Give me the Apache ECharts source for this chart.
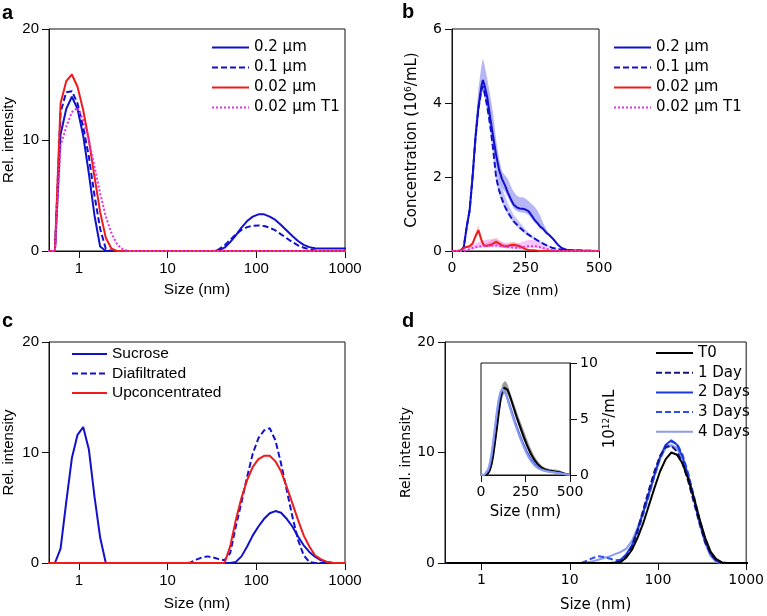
<!DOCTYPE html>
<html>
<head>
<meta charset="utf-8">
<script src="https://cdn.jsdelivr.net/npm/echarts@6/dist/echarts.min.js"></script>
<style>
  html, body { margin: 0; padding: 0; background: #fff; }
  #chart { width: 767px; height: 616px; }
</style>
</head>
<body>
<div id="chart"></div>
<script>
// DLS size bins (nm), shared by panels a, c and d
const sizeBins = [
  0.4, 0.4632, 0.5365, 0.6213, 0.7195, 0.8332, 0.9649, 1.117, 1.294, 1.499,
  1.736, 2.01, 2.328, 2.696, 3.122, 3.615, 4.187, 4.849, 5.615, 6.503,
  7.531, 8.721, 10.1, 11.7, 13.54, 15.69, 18.17, 21.04, 24.36, 28.21,
  32.67, 37.84, 43.82, 50.75, 58.77, 68.06, 78.82, 91.28, 105.7, 122.4,
  141.8, 164.2, 190.1, 220.2, 255, 295.3, 342, 396.1, 458.7, 531.2,
  615.1, 712.4, 825, 955.4, 1106
]
const logTicks = [1, 10, 100, 1000]

// panel a - filter pore size
const a02 = [
  0, 0, 0, 10.5, 12.8, 13.9, 12.8, 10.4, 7.0, 3.2,
  0.4, 0, 0, 0, 0, 0, 0, 0, 0, 0,
  0, 0, 0, 0, 0, 0, 0, 0, 0, 0,
  0, 0.05, 0.3, 0.8, 1.4, 2.1, 2.7, 3.1, 3.3, 3.3,
  3.1, 2.8, 2.35, 1.85, 1.35, 0.9, 0.55, 0.35, 0.25, 0.22,
  0.22, 0.22, 0.22, 0.22, 0.22
]
const a01 = [
  0, 0, 0, 12.5, 14.3, 14.4, 13.3, 11.2, 8.5, 5.0,
  2.0, 0.2, 0, 0, 0, 0, 0, 0, 0, 0,
  0, 0, 0, 0, 0, 0, 0, 0, 0, 0,
  0, 0.15, 0.5, 1.0, 1.5, 1.9, 2.15, 2.28, 2.3, 2.25,
  2.1, 1.85, 1.5, 1.15, 0.8, 0.5, 0.3, 0.15, 0.05, 0,
  0, 0, 0, 0, 0
]
const a002 = [
  0, 0, 0, 13.3, 15.3, 15.9, 14.8, 12.7, 10.0, 6.7,
  3.5, 1.2, 0.2, 0, 0, 0, 0, 0, 0, 0,
  0, 0, 0, 0, 0, 0, 0, 0, 0, 0,
  0, 0, 0, 0, 0, 0, 0, 0, 0, 0,
  0, 0, 0, 0, 0, 0, 0, 0, 0, 0,
  0, 0, 0, 0, 0
]
const a002T1 = [
  0, 0, 0, 9.5, 11.2, 12.5, 12.9, 11.8, 10.0, 7.6,
  5.2, 3.1, 1.6, 0.6, 0.15, 0, 0, 0, 0, 0,
  0, 0, 0, 0, 0, 0, 0, 0, 0, 0,
  0, 0, 0, 0, 0, 0, 0, 0, 0, 0,
  0, 0, 0, 0, 0, 0, 0, 0, 0, 0,
  0, 0, 0, 0, 0
]

// panel b - NTA concentration (10^6/mL)
const ntaSizes = [
  0, 10, 20, 30, 40, 50, 60, 70, 80, 90, 100, 105, 110, 120, 130, 140, 150, 160, 170, 180,
  190, 200, 210, 220, 230, 240, 250, 260, 270, 280, 290, 300, 310, 320, 330, 340, 350, 360, 370, 380,
  390, 400, 450, 500
]
const b02 = [
  0, 0, 0, 0.01, 0.1, 0.65, 1.1, 2.0, 3.1, 3.9, 4.45, 4.62, 4.5, 4.15, 3.6, 3.1, 2.6, 2.2, 1.95, 1.78,
  1.58, 1.4, 1.25, 1.18, 1.15, 1.14, 1.12, 1.08, 0.97, 0.85, 0.76, 0.66, 0.6, 0.5, 0.44, 0.36, 0.27, 0.17, 0.1, 0.06,
  0.03, 0.02, 0.01, 0
]
const b02Hi = [
  0, 0, 0, 0.01, 0.12, 0.75, 1.3, 2.3, 3.4, 4.4, 5.0, 5.2, 5.05, 4.65, 4.2, 3.7, 3.0, 2.5, 2.15, 2.05,
  1.95, 1.75, 1.6, 1.5, 1.45, 1.45, 1.42, 1.35, 1.28, 1.2, 1.1, 0.95, 0.75, 0.6, 0.47, 0.36, 0.26, 0.18, 0.12, 0.08,
  0.06, 0.04, 0.02, 0
]
const b02Lo = [
  0, 0, 0, 0.01, 0.08, 0.55, 0.95, 1.8, 2.85, 3.65, 4.2, 4.35, 4.25, 3.9, 3.4, 2.9, 2.4, 1.95, 1.7, 1.6,
  1.45, 1.3, 1.15, 1.08, 1.05, 1.04, 1.02, 0.98, 0.88, 0.78, 0.7, 0.6, 0.55, 0.45, 0.4, 0.32, 0.22, 0.14, 0.08, 0.05,
  0.03, 0.02, 0.01, 0
]
const b01 = [
  0, 0, 0, 0.01, 0.1, 0.65, 1.1, 2.0, 3.05, 3.85, 4.35, 4.45, 4.3, 3.9, 3.4, 2.75, 2.0, 1.65, 1.4, 1.2,
  1.05, 0.92, 0.8, 0.72, 0.64, 0.57, 0.5, 0.44, 0.39, 0.34, 0.29, 0.24, 0.2, 0.16, 0.12, 0.09, 0.07, 0.05, 0.04, 0.03,
  0.02, 0.02, 0.01, 0
]
const b01Hi = [
  0, 0, 0, 0.01, 0.1, 0.7, 1.2, 2.1, 3.2, 4.0, 4.45, 4.55, 4.45, 4.1, 3.7, 3.1, 2.45, 2.0, 1.72, 1.5,
  1.3, 1.12, 0.98, 0.88, 0.78, 0.68, 0.58, 0.5, 0.44, 0.38, 0.32, 0.27, 0.22, 0.18, 0.14, 0.1, 0.08, 0.06, 0.05, 0.04,
  0.03, 0.02, 0.01, 0
]
const b01Lo = [
  0, 0, 0, 0.01, 0.09, 0.6, 1.0, 1.9, 2.95, 3.75, 4.25, 4.35, 4.2, 3.75, 3.2, 2.55, 1.85, 1.55, 1.32, 1.12,
  0.98, 0.86, 0.74, 0.66, 0.58, 0.52, 0.45, 0.4, 0.35, 0.3, 0.26, 0.21, 0.18, 0.14, 0.1, 0.08, 0.06, 0.04, 0.03, 0.02,
  0.01, 0.01, 0, 0
]
const b002 = [
  0, 0, 0, 0.02, 0.08, 0.11, 0.13, 0.2, 0.4, 0.56, 0.3, 0.2, 0.14, 0.14, 0.16, 0.2, 0.25, 0.2, 0.15, 0.13,
  0.13, 0.16, 0.17, 0.15, 0.13, 0.09, 0.05, 0.03, 0.02, 0.02, 0.01, 0, 0, 0, 0, 0, 0, 0, 0, 0,
  0, 0, 0, 0
]
const b002Hi = [
  0, 0, 0, 0.03, 0.1, 0.14, 0.17, 0.26, 0.5, 0.7, 0.4, 0.28, 0.2, 0.22, 0.27, 0.32, 0.36, 0.3, 0.22, 0.19,
  0.2, 0.24, 0.25, 0.22, 0.18, 0.13, 0.08, 0.05, 0.03, 0.03, 0.02, 0.01, 0, 0, 0, 0, 0, 0, 0, 0,
  0, 0, 0, 0
]
const b002Lo = [
  0, 0, 0, 0.01, 0.06, 0.09, 0.1, 0.16, 0.33, 0.48, 0.24, 0.15, 0.1, 0.1, 0.11, 0.14, 0.18, 0.14, 0.11, 0.09,
  0.09, 0.12, 0.12, 0.1, 0.09, 0.06, 0.03, 0.02, 0.01, 0.01, 0, 0, 0, 0, 0, 0, 0, 0, 0, 0,
  0, 0, 0, 0
]
const b002T1 = [
  0, 0, 0, 0, 0, 0.02, 0.05, 0.08, 0.1, 0.12, 0.13, 0.14, 0.14, 0.15, 0.15, 0.15, 0.15, 0.14, 0.13, 0.12,
  0.11, 0.1, 0.09, 0.09, 0.09, 0.1, 0.12, 0.13, 0.13, 0.13, 0.12, 0.1, 0.08, 0.06, 0.04, 0.03, 0.02, 0.01, 0, 0,
  0, 0, 0, 0
]
const b002T1Hi = [
  0, 0, 0, 0, 0.01, 0.05, 0.1, 0.16, 0.2, 0.24, 0.27, 0.28, 0.29, 0.31, 0.32, 0.32, 0.31, 0.28, 0.25, 0.22,
  0.2, 0.19, 0.19, 0.2, 0.22, 0.25, 0.28, 0.3, 0.3, 0.29, 0.26, 0.22, 0.17, 0.12, 0.08, 0.05, 0.03, 0.02, 0.01, 0,
  0, 0, 0, 0
]
const b002T1Lo = [
  0, 0, 0, 0, 0, 0.01, 0.03, 0.05, 0.07, 0.08, 0.09, 0.1, 0.1, 0.1, 0.1, 0.1, 0.1, 0.09, 0.08, 0.08,
  0.07, 0.06, 0.06, 0.06, 0.06, 0.07, 0.08, 0.09, 0.09, 0.09, 0.08, 0.07, 0.05, 0.04, 0.03, 0.02, 0.01, 0, 0, 0,
  0, 0, 0, 0
]

// panel c - purification steps
const cSucrose = [
  0, 0, 0, 1.3, 5.5, 9.5, 11.6, 12.3, 10.3, 6.0,
  2.3, 0, 0, 0, 0, 0, 0, 0, 0, 0,
  0, 0, 0, 0, 0, 0, 0, 0, 0, 0,
  0, 0, 0, 0, 0.1, 0.6, 1.5, 2.5, 3.3, 4.0,
  4.5, 4.7, 4.55, 4.0, 3.3, 2.4, 1.6, 1.0, 0.57, 0.27,
  0.12, 0.03, 0, 0, 0
]
const cDiafiltrated = [
  0, 0, 0, 0, 0, 0, 0, 0, 0, 0,
  0, 0, 0, 0, 0, 0, 0, 0, 0, 0,
  0, 0, 0, 0, 0, 0, 0.05, 0.3, 0.5, 0.6,
  0.5, 0.35, 0.25, 0.9, 3.3, 5.5, 7.8, 9.9, 11.3, 12.0,
  12.2, 11.1, 9.0, 6.6, 4.2, 2.1, 0.7, 0.1, 0, 0,
  0, 0, 0, 0, 0
]
const cUpconc = [
  0, 0, 0, 0, 0, 0, 0, 0, 0, 0,
  0, 0, 0, 0, 0, 0, 0, 0, 0, 0,
  0, 0, 0, 0, 0, 0, 0, 0, 0, 0,
  0, 0, 0, 1.5, 3.9, 5.9, 7.5, 8.7, 9.4, 9.7,
  9.7, 9.2, 8.3, 6.9, 5.4, 3.9, 2.5, 1.5, 0.7, 0.35,
  0.12, 0.03, 0, 0, 0
]

// panel d - stability over time
const dT0 = [
  0, 0, 0, 0, 0, 0, 0, 0, 0, 0,
  0, 0, 0, 0, 0, 0, 0, 0, 0, 0,
  0, 0, 0, 0, 0, 0, 0, 0, 0, 0,
  0, 0.1, 0.5, 1.2, 2.3, 3.6, 5.2, 6.8, 8.3, 9.4,
  10.0, 9.8, 9.0, 7.6, 5.9, 4.0, 2.3, 1.0, 0.35, 0.05,
  0, 0, 0, 0, 0
]
const dDay1 = [
  0, 0, 0, 0, 0, 0, 0, 0, 0, 0,
  0, 0, 0, 0, 0, 0, 0, 0, 0, 0,
  0, 0, 0, 0, 0, 0, 0, 0, 0, 0,
  0, 0.1, 0.6, 1.5, 3.0, 4.8, 6.6, 8.3, 9.7, 10.5,
  10.6, 10.1, 9.0, 7.4, 5.5, 3.6, 1.9, 0.8, 0.2, 0,
  0, 0, 0, 0, 0
]
const dDay2 = [
  0, 0, 0, 0, 0, 0, 0, 0, 0, 0,
  0, 0, 0, 0, 0, 0, 0, 0, 0, 0,
  0, 0, 0, 0, 0, 0, 0, 0, 0, 0,
  0.05, 0.3, 0.8, 1.6, 3.0, 4.6, 6.3, 8.0, 9.6, 10.7,
  11.1, 10.7, 9.6, 7.9, 5.9, 3.8, 2.0, 0.8, 0.2, 0,
  0, 0, 0, 0, 0
]
const dDay3 = [
  0, 0, 0, 0, 0, 0, 0, 0, 0, 0,
  0, 0, 0, 0, 0, 0, 0, 0, 0, 0,
  0, 0, 0, 0, 0, 0.2, 0.45, 0.6, 0.55, 0.4,
  0.25, 0.3, 0.7, 1.5, 2.8, 4.4, 6.1, 7.9, 9.5, 10.6,
  11.0, 10.8, 9.8, 8.1, 6.1, 4.0, 2.1, 0.8, 0.2, 0,
  0, 0, 0, 0, 0
]
const dDay4 = [
  0, 0, 0, 0, 0, 0, 0, 0, 0, 0,
  0, 0, 0, 0, 0, 0, 0, 0, 0, 0,
  0, 0, 0, 0, 0, 0.05, 0.15, 0.3, 0.45, 0.6,
  0.8, 1.0, 1.3, 2.0, 3.2, 4.6, 6.2, 7.9, 9.4, 10.4,
  10.7, 10.4, 9.4, 7.7, 5.7, 3.6, 1.8, 0.6, 0.1, 0,
  0, 0, 0, 0, 0
]

// panel d inset - NTA (10^12/mL)
const insetSizes = [
  0, 20, 30, 40, 50, 60, 70, 80, 90, 100, 110, 120, 130, 140, 150, 160, 170, 180, 190, 200,
  220, 240, 260, 280, 300, 320, 340, 360, 380, 400, 420, 440, 460, 480, 500
]
const insetT0 = [
  0, 0, 0.02, 0.15, 0.45, 1.0, 1.9, 3.1, 4.3, 5.6, 6.8, 7.5, 7.8, 7.85, 7.6, 7.15, 6.7, 6.2, 5.7, 5.2,
  4.3, 3.4, 2.6, 1.9, 1.35, 0.95, 0.65, 0.5, 0.4, 0.35, 0.3, 0.25, 0.15, 0.07, 0.02
]
const insetT0Hi = [
  0, 0, 0.05, 0.25, 0.6, 1.3, 2.3, 3.6, 4.9, 6.2, 7.4, 8.1, 8.35, 8.35, 8.05, 7.55, 7.1, 6.6, 6.15, 5.7,
  4.85, 4.0, 3.15, 2.35, 1.7, 1.2, 0.85, 0.65, 0.55, 0.5, 0.48, 0.42, 0.3, 0.15, 0.05
]
const insetT0Lo = [
  0, 0, 0, 0.08, 0.3, 0.75, 1.5, 2.6, 3.8, 5.0, 6.2, 6.9, 7.3, 7.4, 7.2, 6.8, 6.35, 5.85, 5.35, 4.85,
  4.0, 3.1, 2.35, 1.7, 1.15, 0.8, 0.5, 0.38, 0.3, 0.25, 0.2, 0.15, 0.08, 0.03, 0
]
const insetDay2 = [
  0, 0.03, 0.12, 0.35, 0.85, 1.7, 2.9, 4.2, 5.5, 6.6, 7.3, 7.6, 7.55, 7.25, 6.8, 6.3, 5.8, 5.3, 4.8, 4.35,
  3.5, 2.7, 2.0, 1.45, 1.0, 0.7, 0.5, 0.4, 0.33, 0.28, 0.22, 0.17, 0.11, 0.06, 0.02
]
const insetDay4 = [
  0, 0.05, 0.2, 0.5, 1.1, 2.0, 3.2, 4.5, 5.8, 6.8, 7.45, 7.7, 7.6, 7.2, 6.7, 6.15, 5.6, 5.1, 4.6, 4.15,
  3.3, 2.5, 1.8, 1.25, 0.85, 0.6, 0.45, 0.35, 0.3, 0.25, 0.2, 0.15, 0.1, 0.05, 0.02
]

const BLUE = '#1111cc'
const RED = '#ee1c1c'
const MAGENTA = '#e630e6'
const DASH = [6, 3]
const DOT = [2, 2]
const SANS = '"Liberation Sans", Arial, sans-serif'
const VERD = '"DejaVu Sans", Verdana, sans-serif'

const chart = echarts.init(document.getElementById('chart'), null, { renderer: 'canvas' })

// 折线
const line = (name, xs, ys, color, type, xi, width) => ({
  name,
  type: 'line',
  xAxisIndex: xi,
  yAxisIndex: xi,
  data: xs.map((x, i) => [x, ys[i]]),
  symbol: 'none',
  lineStyle: { color, width: width || 2, type: type || 'solid' },
  itemStyle: { color },
  z: 3,
  silent: true
})

// 误差带 (polygon through the axis scale)
const band = (xs, lo, hi, color, xi) => ({
  type: 'custom',
  xAxisIndex: xi,
  yAxisIndex: xi,
  silent: true,
  z: 1,
  data: xs.map((x, i) => [x, lo[i], hi[i]]),
  encode: { x: 0, y: [1, 2] },
  renderItem: (params, api) => {
    if (params.dataIndex !== 0) return null
    const top = xs.map((x, i) => api.coord([x, hi[i]]))
    const bot = xs.map((x, i) => api.coord([x, lo[i]])).reverse()
    return { type: 'polygon', shape: { points: top.concat(bot) }, style: { fill: color } }
  }
})

const axisLine = { show: true, onZero: false, lineStyle: { color: '#111', width: 1 } }
const tick = (len) => ({ show: true, inside: false, length: len, lineStyle: { color: '#111', width: 1 } })

const logX = (gi, min, font, size, nameGap, nameSize) => ({
  type: 'log',
  gridIndex: gi,
  logBase: 10,
  min,
  max: 1000,
  name: 'Size (nm)',
  nameLocation: 'middle',
  nameGap,
  nameTextStyle: { fontFamily: font, fontSize: nameSize, color: '#000' },
  axisLine,
  axisTick: { ...tick(7), customValues: logTicks },
  axisLabel: {
    customValues: logTicks,
    margin: 10,
    fontFamily: font,
    fontSize: size,
    color: '#000',
    formatter: (v) => String(Math.round(v))
  },
  splitLine: { show: false },
  minorTick: { show: false }
})

const valY = (gi, max, interval, name, font, size, nameGap, nameSize, pos) => ({
  type: 'value',
  gridIndex: gi,
  position: pos || 'left',
  min: 0,
  max,
  interval,
  name,
  nameLocation: 'middle',
  nameRotate: 90,
  nameGap,
  nameTextStyle: {
    fontFamily: font,
    fontSize: nameSize,
    color: '#000',
    rich: {
      n: { fontFamily: font, fontSize: nameSize, color: '#000' },
      sup: { fontFamily: font, fontSize: 9, color: '#000', verticalAlign: 'top', padding: [0, 0, 7, 0] }
    }
  },
  axisLine,
  axisTick: tick(7),
  axisLabel: { margin: 10, fontFamily: font, fontSize: size, color: '#000' },
  splitLine: { show: false }
})

const linX = (gi, max, interval, font, size, nameGap, nameSize) => ({
  type: 'value',
  gridIndex: gi,
  min: 0,
  max,
  interval,
  name: 'Size (nm)',
  nameLocation: 'middle',
  nameGap,
  nameTextStyle: { fontFamily: font, fontSize: nameSize, color: '#000' },
  axisLine,
  axisTick: tick(7),
  axisLabel: { margin: 10, fontFamily: font, fontSize: size, color: '#000' },
  splitLine: { show: false }
})

const gridBox = { show: true, borderColor: '#111', borderWidth: 1, backgroundColor: 'rgba(0,0,0,0)' }

const legendBase = {
  orient: 'vertical',
  itemWidth: 37,
  itemHeight: 14,
  itemGap: 5,
  selectedMode: false,
  itemStyle: { opacity: 0 },
  textStyle: { fontFamily: VERD, fontSize: 15, color: '#000' }
}

const panelLabel = (t, x, y) => ({
  type: 'text',
  x,
  y,
  style: { text: t, font: 'bold 20px "Liberation Sans", Arial', fill: '#000' }
})

const option = {
  animation: false,
  backgroundColor: '#fff',
  grid: [
    { left: 49, top: 29, width: 296, height: 222, ...gridBox },
    { left: 452, top: 29, width: 147, height: 222, ...gridBox },
    { left: 49, top: 342, width: 296, height: 221, ...gridBox },
    { left: 445, top: 342, width: 302, height: 221, ...gridBox },
    { left: 481, top: 363, width: 89, height: 112, ...gridBox }
  ],
  xAxis: [
    logX(0, 0.46, SANS, 15, 31, 15.5),
    linX(1, 500, 250, VERD, 14, 33, 14),
    logX(2, 0.46, SANS, 15, 33, 15.5),
    logX(3, 0.385, VERD, 14, 35, 15),
    linX(4, 500, 250, VERD, 14, 30, 15)
  ],
  yAxis: [
    valY(0, 20, 10, 'Rel. intensity', SANS, 15, 33, 15),
    valY(1, 6, 2, '{n|Concentration (10}{sup|6}{n|/mL)}', VERD, 14, 32, 15),
    valY(2, 20, 10, 'Rel. intensity', SANS, 15, 33, 15),
    valY(3, 20, 10, 'Rel. intensity', VERD, 14, 30, 14),
    valY(4, 10, 5, '{n|10}{sup|12}{n|/mL}', VERD, 14, 32, 15, 'right')
  ],
  legend: [
    { ...legendBase, left: 206, top: 35, data: ['0.2 μm', '0.1 μm', '0.02 μm', '0.02 μm T1'] },
    { ...legendBase, left: 608, top: 35, data: ['0.2 μm', '0.1 μm', '0.02 μm', '0.02 μm T1'] },
    {
      ...legendBase,
      left: 66,
      top: 341,
      itemWidth: 35,
      itemGap: 3.5,
      textStyle: { fontFamily: SANS, fontSize: 15.5, color: '#000' },
      data: ['Sucrose', 'Diafiltrated', 'Upconcentrated']
    },
    { ...legendBase, left: 650, top: 340.5, itemGap: 4.7, data: ['T0', '1 Day', '2 Days', '3 Days', '4 Days'] }
  ],
  graphic: [
    panelLabel('a', 2, 3),
    panelLabel('b', 402, 2),
    panelLabel('c', 2, 311),
    panelLabel('d', 402, 311)
  ],
  series: [
    // a
    line('0.2 μm', sizeBins, a02, BLUE, 'solid', 0),
    line('0.1 μm', sizeBins, a01, BLUE, DASH, 0),
    line('0.02 μm', sizeBins, a002, RED, 'solid', 0),
    line('0.02 μm T1', sizeBins, a002T1, MAGENTA, DOT, 0),
    // b
    band(ntaSizes, b02Lo, b02Hi, 'rgba(90, 90, 240, 0.45)', 1),
    band(ntaSizes, b01Lo, b01Hi, 'rgba(90, 90, 240, 0.35)', 1),
    band(ntaSizes, b002Lo, b002Hi, 'rgba(250, 110, 110, 0.4)', 1),
    band(ntaSizes, b002T1Lo, b002T1Hi, 'rgba(240, 110, 240, 0.4)', 1),
    line('0.2 μm', ntaSizes, b02, BLUE, 'solid', 1),
    line('0.1 μm', ntaSizes, b01, BLUE, DASH, 1),
    line('0.02 μm', ntaSizes, b002, RED, 'solid', 1),
    line('0.02 μm T1', ntaSizes, b002T1, MAGENTA, DOT, 1),
    // c
    line('Sucrose', sizeBins, cSucrose, BLUE, 'solid', 2),
    line('Diafiltrated', sizeBins, cDiafiltrated, BLUE, DASH, 2),
    line('Upconcentrated', sizeBins, cUpconc, RED, 'solid', 2),
    // d
    line('4 Days', sizeBins, dDay4, '#8b9bf0', 'solid', 3),
    line('3 Days', sizeBins, dDay3, '#2a4cf0', DASH, 3),
    line('2 Days', sizeBins, dDay2, '#1c3ae0', 'solid', 3),
    line('1 Day', sizeBins, dDay1, '#14148a', DASH, 3),
    line('T0', sizeBins, dT0, '#000000', 'solid', 3),
    // inset
    band(insetSizes, insetT0Lo, insetT0Hi, 'rgba(90, 90, 90, 0.6)', 4),
    line('inset T0', insetSizes, insetT0, '#000000', 'solid', 4),
    line('inset 2 Days', insetSizes, insetDay2, '#4a62e6', 'solid', 4),
    line('inset 4 Days', insetSizes, insetDay4, '#8b9bf0', 'solid', 4)
  ]
}

chart.setOption(option)
</script>
</body>
</html>
